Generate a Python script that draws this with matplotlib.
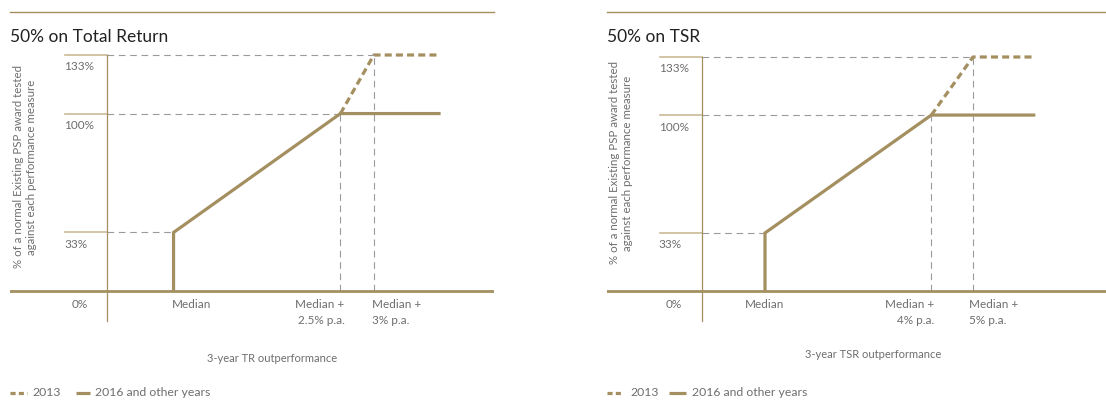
import matplotlib
matplotlib.use('Agg')
import matplotlib.pyplot as plt
from matplotlib.lines import Line2D

plt.rcParams['font.family'] = ['Lato', 'DejaVu Sans']

W, H = 1106, 400
GOLD = '#a48f60'
STUB = '#cbbb95'
GREY = '#9a9a9a'
TXT = '#6e6e6e'

# data
levels = [0, 33, 100, 133]
level_labels = ['0%', '33%', '100%', '133%']
tr_steps = [0, 2.5, 3]
tsr_steps = [0, 4, 5]
tr_labels = ['Median', 'Median +\n2.5% p.a.', 'Median +\n3% p.a.']
tsr_labels = ['Median', 'Median +\n4% p.a.', 'Median +\n5% p.a.']
titles = ['50% on Total Return', '50% on TSR']
xtitles = ['3-year TR outperformance', '3-year TSR outperformance']
ytitle = '% of a normal Existing PSP award tested\nagainst each performance measure'
legend_names = ['2013', '2016 and other years']


def px(x, y):
    return x / W, 1 - y / H


def fig_line(fig, x0, x1, y, **kw):
    a, b = px(x0, y)
    c, _ = px(x1, y)
    fig.add_artist(Line2D([a, c], [b, b], transform=fig.transFigure, **kw))


def panel(fig, left, right, y0px, y133px, xlim, x_axis, x_stub, x_end,
          steps, labels, lab_align, title, xtitle, xt_pos, yt_pos, leg):
    scale = (y0px - y133px) / 133.0
    top = y133px - 8 * scale
    bot = y0px + 28 * scale
    ax = fig.add_axes([left / W, 1 - bot / H, (right - left) / W, (bot - top) / H])
    ax.set_xlim(xlim)
    ax.set_ylim(-28, 141)
    ax.axis('off')

    med, lo, hi = steps
    # guides
    for v, xe in [(133, hi), (100, lo), (33, med)]:
        ax.plot([x_axis, xe], [v, v], color=GREY, lw=0.8, dashes=(6, 4.2), clip_on=False)
        ax.plot([x_stub, x_axis], [v, v], color=STUB, lw=1.2, clip_on=False)
    ax.plot([lo, lo], [0, 100], color=GREY, lw=0.8, dashes=(6, 4.2))
    ax.plot([hi, hi], [0, 133], color=GREY, lw=0.8, dashes=(6, 4.2))

    # axes lines
    ax.axhline(0, color=GOLD, lw=2)
    ax.plot([x_axis, x_axis], [-17, 133], color=GOLD, lw=0.9, clip_on=False)

    # payout curves
    ax.plot([lo, hi, x_end], [levels[2], levels[3], levels[3]], color=GOLD,
            lw=2.3, dashes=(2.2, 1.3), dash_capstyle='butt', clip_on=False)
    ax.plot([med, med, lo, x_end], [levels[0], levels[1], levels[2], levels[2]],
            color=GOLD, lw=2.3, solid_joinstyle='miter', solid_capstyle='butt',
            clip_on=False)

    # y tick labels
    for v, s in zip(levels, level_labels):
        dx = 6 if v == 0 else -1
        dy = -14 if v == 0 else -12
        ax.annotate(s, (x_stub, v), xytext=(dx, dy), textcoords='offset pixels',
                    ha='left', va='center', fontsize=8.5, color=TXT)

    # x tick labels
    for st, s, (ha, dx) in zip(steps, labels, lab_align):
        ax.annotate(s, (st, 0), xytext=(dx, -8), textcoords='offset pixels',
                    ha=ha, va='top', fontsize=8.5, color=TXT, linespacing=1.5)

    fig_line(fig, left, right, 11.7, color=GOLD, lw=1)
    fig.text(*px(left, 42), title, fontsize=12.5, color='#222222', va='baseline')
    fig.text(*px(*xt_pos), xtitle, fontsize=8, color=TXT, ha='center', va='center')
    fig.text(*px(*yt_pos), ytitle, fontsize=8.3, color=TXT, ha='center', va='center',
             rotation=90, linespacing=1.3)

    # legend
    lx = leg
    fig_line(fig, lx[0], lx[1], 393, color=GOLD, lw=2.3, dashes=(1.6, 1.0),
             dash_capstyle='butt')
    fig.text(*px(lx[2], 393), legend_names[0], fontsize=8.8, color=TXT, va='center')
    fig_line(fig, lx[3], lx[4], 393, color=GOLD, lw=2.3, solid_capstyle='butt')
    fig.text(*px(lx[5], 393), legend_names[1], fontsize=8.8, color=TXT, va='center')
    return ax


fig = plt.figure(figsize=(W / 100, H / 100), dpi=100)

panel(fig, 10, 494, 291, 55, (-2.45, 4.8), -1.0, -1.62, 4.0,
      tr_steps, tr_labels, [('left', -2), ('right', 4), ('left', -2)],
      titles[0], xtitles[0], (272, 358), (25, 167), (10, 27, 32, 76, 90, 95))

panel(fig, 607, 1106, 291, 57, (-3.8, 8.2), -1.52, -2.53, 6.5,
      tsr_steps, tsr_labels, [('center', 0), ('right', 3), ('left', -4)],
      titles[1], xtitles[1], (873, 355), (621, 163), (607, 623, 630, 669, 686, 692))

fig.savefig('out.png', dpi=100)
